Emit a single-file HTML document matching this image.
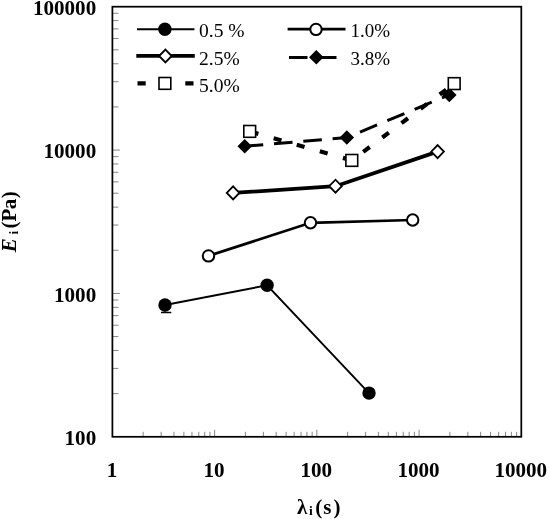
<!DOCTYPE html><html><head><meta charset="utf-8"><title>chart</title><style>html,body{margin:0;padding:0;background:#fff}svg{display:block}text{font-family:"Liberation Serif","Times New Roman",serif;fill:#000}</style></head><body>
<svg width="550" height="519" viewBox="0 0 550 519">
<rect width="550" height="519" fill="#fff"/>
<path d="M143.17 436.8 V431.8 M161.17 436.8 V431.8 M173.95 436.8 V431.8 M183.85 436.8 V431.8 M191.95 436.8 V431.8 M198.79 436.8 V431.8 M204.72 436.8 V431.8 M209.95 436.8 V431.8 M214.62 436.8 V429.8 M245.40 436.8 V431.8 M263.40 436.8 V431.8 M276.17 436.8 V431.8 M286.08 436.8 V431.8 M294.17 436.8 V431.8 M301.02 436.8 V431.8 M306.94 436.8 V431.8 M312.17 436.8 V431.8 M316.85 436.8 V429.8 M347.62 436.8 V431.8 M365.62 436.8 V431.8 M378.40 436.8 V431.8 M388.30 436.8 V431.8 M396.40 436.8 V431.8 M403.24 436.8 V431.8 M409.17 436.8 V431.8 M414.40 436.8 V431.8 M419.07 436.8 V429.8 M449.85 436.8 V431.8 M467.85 436.8 V431.8 M480.62 436.8 V431.8 M490.53 436.8 V431.8 M498.62 436.8 V431.8 M505.47 436.8 V431.8 M511.39 436.8 V431.8 M516.62 436.8 V431.8 M112.4 393.64 H118.4 M112.4 368.40 H118.4 M112.4 350.48 H118.4 M112.4 336.59 H118.4 M112.4 325.24 H118.4 M112.4 315.64 H118.4 M112.4 307.33 H118.4 M112.4 299.99 H118.4 M112.4 293.43 H119.9 M112.4 250.28 H118.4 M112.4 225.03 H118.4 M112.4 207.12 H118.4 M112.4 193.22 H118.4 M112.4 181.87 H118.4 M112.4 172.27 H118.4 M112.4 163.96 H118.4 M112.4 156.63 H118.4 M112.4 150.07 H119.9 M112.4 106.91 H118.4 M112.4 81.66 H118.4 M112.4 63.75 H118.4 M112.4 49.86 H118.4 M112.4 38.51 H118.4 M112.4 28.91 H118.4 M112.4 20.59 H118.4 M112.4 13.26 H118.4" stroke="#707070" stroke-width="0.85" fill="none"/>
<rect x="112.4" y="6.7" width="408.90" height="430.10" fill="none" stroke="#000" stroke-width="1.75"/>
<path d="M165 305 V312.3 M161 312.5 H171.3" stroke="#000" stroke-width="1.3" fill="none"/>
<polyline points="165,305 267.1,285.3 369,393.1" fill="none" stroke="#000" stroke-width="1.9"/>
<polyline points="208.5,255.9 310.5,222.8 412.7,220" fill="none" stroke="#000" stroke-width="2.7"/>
<polyline points="233.1,192.9 335.5,186.2 437.6,151.6" fill="none" stroke="#000" stroke-width="3.8"/>
<path d="M244.7 146.3 L346.8 137.6" fill="none" stroke="#000" stroke-width="3" stroke-dasharray="18.6 10.8" stroke-dashoffset="0"/>
<path d="M346.8 137.6 L449.3 94.9" fill="none" stroke="#000" stroke-width="3" stroke-dasharray="18.5 11.1" stroke-dashoffset="15.3"/>
<path d="M249.7 131.4 L351.8 160.4" fill="none" stroke="#000" stroke-width="4.2" stroke-dasharray="8.1 15.9" stroke-dashoffset="-0.9"/>
<path d="M351.8 160.4 L454.2 83.6" fill="none" stroke="#000" stroke-width="4.2" stroke-dasharray="8.1 15.8" stroke-dashoffset="9.6"/>
<circle cx="165" cy="305" r="6.7" fill="#000"/>
<circle cx="267.1" cy="285.3" r="6.7" fill="#000"/>
<circle cx="369" cy="393.1" r="6.7" fill="#000"/>
<circle cx="208.5" cy="255.9" r="5.7" fill="#fff" stroke="#000" stroke-width="2"/>
<circle cx="310.5" cy="222.8" r="5.7" fill="#fff" stroke="#000" stroke-width="2"/>
<circle cx="412.7" cy="220" r="5.7" fill="#fff" stroke="#000" stroke-width="2"/>
<path d="M226.79999999999998 192.9 L233.1 186.4 L239.4 192.9 L233.1 199.4 Z" fill="#fff" stroke="#000" stroke-width="1.8"/>
<path d="M329.2 186.2 L335.5 179.7 L341.8 186.2 L335.5 192.7 Z" fill="#fff" stroke="#000" stroke-width="1.8"/>
<path d="M431.3 151.6 L437.6 145.1 L443.90000000000003 151.6 L437.6 158.1 Z" fill="#fff" stroke="#000" stroke-width="1.8"/>
<path d="M238.54999999999998 146.3 L244.7 140.20000000000002 L250.85 146.3 L244.7 152.4 Z" fill="#000" stroke="#000" stroke-width="1.6"/>
<path d="M340.65000000000003 137.6 L346.8 131.5 L352.95 137.6 L346.8 143.7 Z" fill="#000" stroke="#000" stroke-width="1.6"/>
<path d="M443.15000000000003 94.9 L449.3 88.80000000000001 L455.45 94.9 L449.3 101.0 Z" fill="#000" stroke="#000" stroke-width="1.6"/>
<rect x="243.79999999999998" y="125.5" width="11.8" height="11.8" fill="#fff" stroke="#000" stroke-width="1.6"/>
<rect x="345.90000000000003" y="154.5" width="11.8" height="11.8" fill="#fff" stroke="#000" stroke-width="1.6"/>
<rect x="448.3" y="77.69999999999999" width="11.8" height="11.8" fill="#fff" stroke="#000" stroke-width="1.6"/>
<path d="M137 29.2 H194.4" stroke="#000" stroke-width="1.9"/><circle cx="164.9" cy="29.2" r="6.7" fill="#000"/>
<path d="M287.6 29.2 H345.5" stroke="#000" stroke-width="2.7"/><circle cx="316" cy="29.4" r="5.7" fill="#fff" stroke="#000" stroke-width="2"/>
<path d="M136.3 55.9 H194.8" stroke="#000" stroke-width="3.8"/><path d="M159.1 56 L165.4 49.5 L171.70000000000002 56 L165.4 62.5 Z" fill="#fff" stroke="#000" stroke-width="1.8"/>
<path d="M289 57.4 H336.5" stroke="#000" stroke-width="3" stroke-dasharray="18.5 10.5"/><path d="M310.15000000000003 57.2 L316.3 51.1 L322.45 57.2 L316.3 63.300000000000004 Z" fill="#000" stroke="#000" stroke-width="1.6"/>
<path d="M137.5 83.3 H194" stroke="#000" stroke-width="4.2" stroke-dasharray="8.2 15.7"/><rect x="159.0" y="77.5" width="11.8" height="11.8" fill="#fff" stroke="#000" stroke-width="1.6"/>
<text x="199" y="36.6" font-size="19.5">0.5 %</text>
<text x="350.6" y="36.7" font-size="19">1.0%</text>
<text x="199" y="64.5" font-size="19.5">2.5%</text>
<text x="350.5" y="64.5" font-size="19">3.8%</text>
<text x="199" y="92.4" font-size="19.5">5.0%</text>
<text x="96.2" y="15.00" text-anchor="end" font-size="21.1" font-weight="bold">100000</text>
<text x="96.2" y="158.37" text-anchor="end" font-size="21.1" font-weight="bold">10000</text>
<text x="96.2" y="301.73" text-anchor="end" font-size="21.1" font-weight="bold">1000</text>
<text x="96.2" y="445.10" text-anchor="end" font-size="21.1" font-weight="bold">100</text>
<text x="111.90" y="476.5" text-anchor="middle" font-size="21.1" font-weight="bold">1</text>
<text x="214.12" y="476.5" text-anchor="middle" font-size="21.1" font-weight="bold">10</text>
<text x="316.35" y="476.5" text-anchor="middle" font-size="21.1" font-weight="bold">100</text>
<text x="418.57" y="476.5" text-anchor="middle" font-size="21.1" font-weight="bold">1000</text>
<text x="520.80" y="476.5" text-anchor="middle" font-size="21.1" font-weight="bold">10000</text>
<text y="513.6" font-size="21" font-weight="bold"><tspan x="297">λ</tspan><tspan x="309" y="515.4" font-size="13.5">i</tspan><tspan x="315.3" y="513.6">(</tspan><tspan x="323.2">s</tspan><tspan x="333.4">)</tspan></text>
<text transform="translate(15.8 252.3) rotate(-90)" font-size="21" font-weight="bold"><tspan x="0" y="0" font-style="italic">E</tspan><tspan x="17.8" y="2.5" font-size="13.5">i</tspan><tspan x="23.9" y="0">(</tspan><tspan x="30.8">P</tspan><tspan x="43">a</tspan><tspan x="54">)</tspan></text>
</svg></body></html>
